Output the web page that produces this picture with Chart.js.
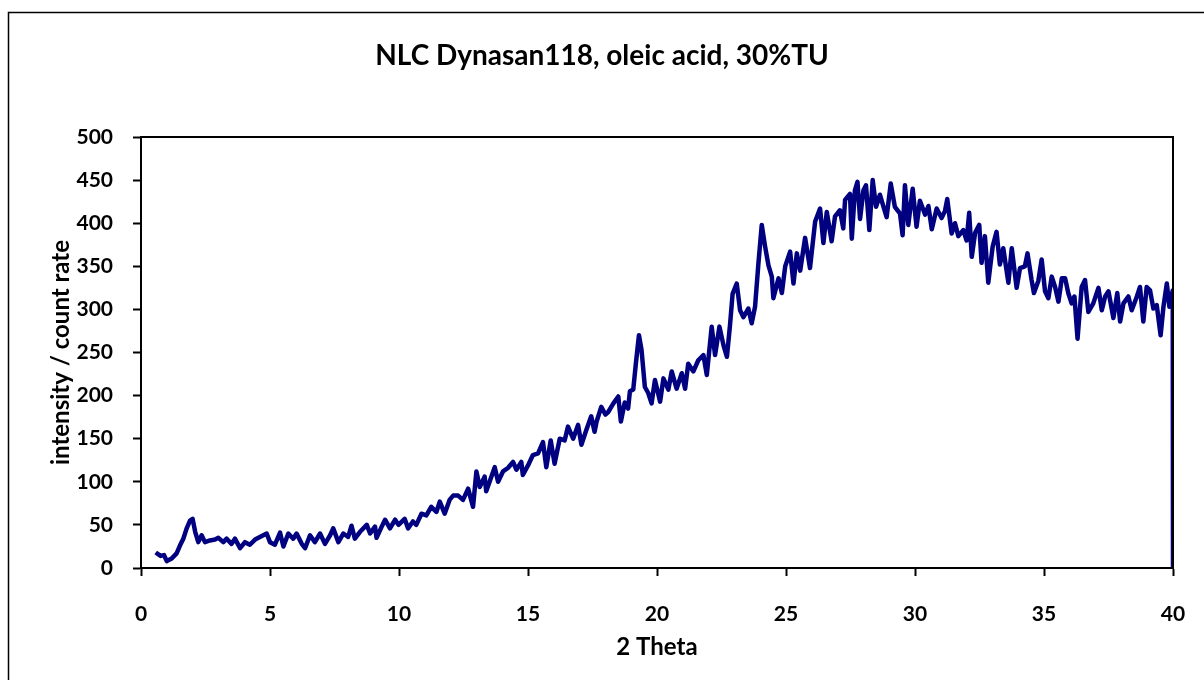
<!DOCTYPE html>
<html>
<head>
<meta charset="utf-8">
<script src="https://cdn.jsdelivr.net/npm/chart.js@4.4.1/dist/chart.umd.min.js"></script>
<style>
  body { margin: 0; background: #fff; }
  canvas { display: block; }
</style>
</head>
<body>
<canvas id="xrd" width="1204" height="680"></canvas>
<script>
// 2 theta positions
const twoTheta = [
  0.57, 0.76, 0.89, 1.0, 1.19, 1.38, 1.51, 1.64, 1.77, 1.9, 2.0, 2.1, 2.22, 2.35, 2.48, 2.67, 2.87, 3.0, 3.19, 3.32,
  3.51, 3.64, 3.84, 4.03, 4.22, 4.42, 4.61, 4.87, 5.0, 5.19, 5.39, 5.52, 5.71, 5.9, 6.03, 6.23, 6.36, 6.55, 6.74, 6.94,
  7.13, 7.33, 7.45, 7.65, 7.84, 8.03, 8.16, 8.29, 8.49, 8.75, 8.88, 9.07, 9.13, 9.33, 9.46, 9.65, 9.85, 9.98, 10.22, 10.35,
  10.54, 10.67, 10.87, 11.06, 11.25, 11.45, 11.58, 11.77, 11.96, 12.1, 12.29, 12.48, 12.68, 12.87, 13.0, 13.13, 13.32, 13.38, 13.71, 13.84,
  14.03, 14.22, 14.42, 14.55, 14.74, 14.8, 15.0, 15.19, 15.39, 15.58, 15.71, 15.88, 16.03, 16.23, 16.42, 16.55, 16.75, 16.94, 17.07, 17.26,
  17.45, 17.58, 17.66, 17.84, 18.0, 18.11, 18.31, 18.5, 18.6, 18.75, 18.88, 18.95, 19.08, 19.18, 19.3, 19.4, 19.53, 19.66, 19.79, 19.92,
  20.12, 20.25, 20.44, 20.57, 20.76, 20.96, 21.09, 21.21, 21.41, 21.6, 21.8, 21.93, 22.12, 22.25, 22.42, 22.58, 22.71, 22.83, 22.93, 23.09,
  23.22, 23.35, 23.54, 23.67, 23.8, 23.93, 24.06, 24.19, 24.32, 24.45, 24.51, 24.71, 24.84, 24.97, 25.16, 25.29, 25.42, 25.55, 25.74, 25.93,
  26.13, 26.32, 26.45, 26.58, 26.77, 26.9, 27.09, 27.22, 27.29, 27.48, 27.55, 27.67, 27.77, 27.87, 28.0, 28.1, 28.23, 28.36, 28.49, 28.64,
  28.8, 28.9, 29.06, 29.22, 29.42, 29.52, 29.61, 29.74, 29.91, 30.06, 30.19, 30.39, 30.52, 30.65, 30.84, 31.03, 31.16, 31.25, 31.42, 31.55,
  31.68, 31.87, 32.0, 32.1, 32.2, 32.33, 32.49, 32.58, 32.71, 32.84, 33.01, 33.16, 33.29, 33.42, 33.62, 33.75, 33.94, 34.07, 34.26, 34.36,
  34.52, 34.61, 34.78, 34.91, 35.04, 35.17, 35.3, 35.43, 35.56, 35.69, 35.82, 35.94, 36.07, 36.18, 36.3, 36.46, 36.59, 36.72, 36.91, 37.11,
  37.24, 37.37, 37.5, 37.69, 37.84, 37.95, 38.08, 38.27, 38.4, 38.6, 38.72, 38.85, 38.98, 39.11, 39.24, 39.37, 39.52, 39.63, 39.76, 39.86,
  39.99, 40.0
];

// intensity / count rate at those positions
const intensity = [
  18, 14, 15, 8, 11, 17, 26, 34, 46, 55, 57, 42, 30, 38, 30, 32, 33, 35, 30, 34,
  28, 34, 23, 30, 27, 33, 36, 40, 30, 27, 41, 25, 40, 34, 40, 28, 23, 38, 30, 40,
  28, 38, 46, 30, 40, 36, 49, 34, 42, 50, 40, 48, 35, 48, 56, 46, 56, 50, 57, 46,
  54, 50, 63, 61, 71, 65, 77, 63, 79, 84, 84, 79, 92, 71, 112, 94, 106, 89, 117, 100,
  112, 116, 123, 114, 123, 108, 119, 131, 133, 146, 117, 148, 121, 150, 148, 164, 150, 166, 143, 160,
  176, 158, 170, 187, 178, 181, 191, 199, 170, 192, 185, 205, 207, 237, 270, 253, 210, 203, 191, 218,
  193, 220, 207, 228, 208, 226, 208, 237, 228, 241, 247, 224, 280, 247, 280, 258, 245, 282, 318, 330,
  299, 291, 301, 284, 303, 353, 398, 373, 351, 338, 313, 336, 319, 350, 367, 330, 365, 345, 383, 348,
  402, 417, 377, 413, 379, 408, 415, 394, 427, 434, 382, 438, 448, 405, 438, 444, 392, 450, 419, 433,
  417, 407, 446, 419, 411, 386, 444, 398, 440, 396, 426, 410, 420, 393, 417, 406, 414, 428, 388, 400,
  385, 392, 380, 412, 361, 389, 398, 354, 385, 331, 373, 390, 352, 371, 331, 371, 325, 348, 350, 365,
  334, 319, 333, 358, 321, 313, 338, 326, 309, 336, 336, 319, 307, 315, 266, 326, 334, 297, 307, 325,
  299, 315, 321, 290, 319, 286, 307, 315, 299, 315, 326, 286, 326, 322, 301, 305, 270, 303, 330, 303,
  322, 0
];

const xTicksStep = 5;
const yTicksStep = 50;

const points = twoTheta.map((t, i) => ({ x: t, y: intensity[i] }));

// frame round the plot area and the outer chart border
const frames = {
  id: "frames",
  afterDraw(chart) {
    const { ctx, chartArea } = chart;
    ctx.save();
    ctx.strokeStyle = "#000";
    ctx.lineWidth = 2;
    ctx.strokeRect(chartArea.left, chartArea.top, chartArea.right - chartArea.left, chartArea.bottom - chartArea.top);
    ctx.lineWidth = 1.5;
    ctx.strokeRect(8.5, 12.5, 1400, 900);
    ctx.restore();
  },
};

const tickFont = { family: "Lato", size: 21, weight: "bold" };
const axisTitleFont = { family: "Lato", size: 24, weight: "bold" };

const hiddenGrid = { display: false, drawTicks: false };

new Chart(document.getElementById("xrd"), {
  type: "line",
  data: {
    datasets: [
      {
        label: "NLC Dynasan118",
        data: points,
        borderColor: "#000080",
        borderWidth: 4.5,
        pointRadius: 0,
        tension: 0,
        borderJoinStyle: "round",
        fill: false,
        yAxisID: "y",
      },
    ],
  },
  options: {
    responsive: false,
    animation: false,
    layout: {
      padding: { left: 0, top: 12, right: 0, bottom: 0 },
    },
    plugins: {
      legend: { display: false },
      tooltip: { enabled: false },
      title: {
        display: true,
        text: "NLC Dynasan118, oleic acid, 30%TU",
        color: "#000",
        font: { family: "Lato", size: 28, weight: "bold" },
        padding: { top: 27, bottom: 64.4 },
      },
    },
    scales: {
      x: {
        type: "linear",
        min: 0,
        max: 40,
        afterFit(scale) {
          scale.height = 112;
          // end labels may hang over the edges, no extra room for them
          scale.paddingLeft = 0;
          scale.paddingRight = 0;
        },
        ticks: {
          stepSize: xTicksStep,
          color: "#000",
          font: tickFont,
          padding: 26,
          maxRotation: 0,
        },
        grid: {
          display: true,
          drawOnChartArea: false,
          drawTicks: true,
          tickLength: 8,
          tickColor: "#000",
          tickWidth: 2,
        },
        border: { color: "#000", width: 2 },
        title: {
          display: true,
          text: "2 Theta",
          color: "#000",
          font: axisTitleFont,
          padding: { top: 0, bottom: 18 },
        },
      },
      y: {
        min: 0,
        max: 500,
        afterFit(scale) {
          scale.width = 141;
        },
        ticks: {
          stepSize: yTicksStep,
          color: "#000",
          font: tickFont,
          padding: 20,
        },
        grid: {
          display: true,
          drawOnChartArea: false,
          drawTicks: true,
          tickLength: 8,
          tickColor: "#000",
          tickWidth: 2,
        },
        border: { color: "#000", width: 2 },
        title: {
          display: true,
          text: "intensity / count rate",
          color: "#000",
          font: axisTitleFont,
          padding: { top: 47, bottom: 0 },
        },
      },
      // empty strip on the right so the plot ends where the reference does
      spacer: {
        position: "right",
        min: 0,
        max: 500,
        afterFit(scale) {
          scale.width = 31;
        },
        ticks: { display: false },
        grid: hiddenGrid,
        border: { display: false },
      },
    },
  },
  plugins: [frames],
});
</script>
</body>
</html>
